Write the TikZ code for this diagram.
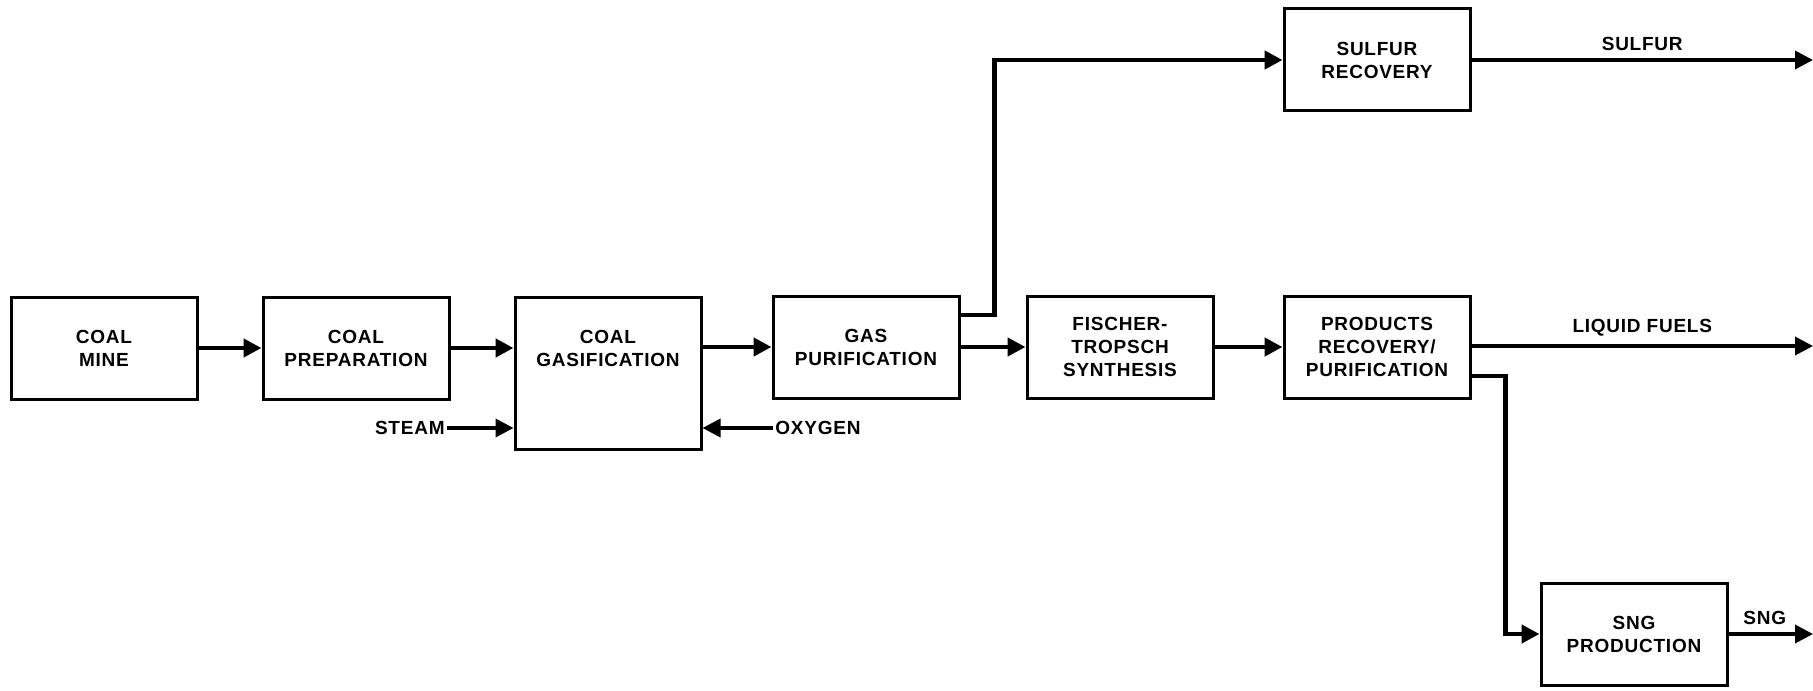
\documentclass[tikz,border=0pt]{standalone}
\usepackage{fontspec}
\setmainfont[LetterSpace=4]{Liberation Sans}
\usetikzlibrary{arrows.meta,positioning,calc}

\begin{document}
\begin{tikzpicture}[x=0.5pt, y=-0.5pt, >={Triangle[length=9pt,width=9pt]},
  font=\fontsize{9.5}{11.5}\selectfont\bfseries,
  blk/.style={draw, line width=1.5pt, minimum width=93pt, minimum height=51pt, align=center, inner sep=2pt},
  lbl/.style={inner sep=1pt, align=center},
  flow/.style={->, line width=2.2pt},
  outflow/.style={->, line width=1.8pt}]
  \useasboundingbox (0,0) rectangle (1813,690);
  \node[blk] (mine) at (104,348) {COAL\\MINE};
  \node[blk] (prep) at (356,348) {COAL\\PREPARATION};
  \node[blk, minimum height=76pt] (gasif) at (608,373) {};
  \node[lbl] (gasiftxt) at (gasif.center |- prep) {COAL\\GASIFICATION};
  \node[blk] (purif) at (866,347) {GAS\\PURIFICATION};
  \node[blk] (ft) at (1120,347) {FISCHER-\\TROPSCH\\SYNTHESIS};
  \node[blk] (prod) at (1377,347) {PRODUCTS\\RECOVERY/\\PURIFICATION};
  \node[blk] (sulfur) at (1377,60) {SULFUR\\RECOVERY};
  \node[blk] (sng) at (1634,634) {SNG\\PRODUCTION};
  \node[lbl, anchor=east] (steam) at (447,428) {STEAM};
  \node[lbl, anchor=west] (oxygen) at (773,428) {OXYGEN};
  \coordinate (sulfurout) at (1813,60);
  \coordinate (liquidout) at (1813,346);
  \coordinate (sngout) at (1813,634);
  \draw[flow] (mine.east) -- (prep.west);
  \draw[flow] (prep.east) -- (prep.east -| gasif.west);
  \draw[flow] (gasif.east |- purif) -- (purif.west);
  \draw[flow] (purif.east) -- (ft.west);
  \draw[flow] (ft.east) -- (prod.west);
  \draw[outflow] (steam.east) -- (steam.east -| gasif.west);
  \draw[outflow] (oxygen.west) -- (oxygen.west -| gasif.east);
  \draw[flow] ([yshift=16pt]purif.east) -- ++(17pt,0) |- (sulfur.west);
  \draw[flow] ([yshift=-14.5pt]prod.east) -- ++(17pt,0) |- (sng.west);
  \draw[outflow] (sulfur.east) -- node[lbl, above=3pt] (sulfurlbl) {SULFUR} (sulfurout);
  \draw[outflow] (prod.east |- liquidout) -- node[lbl, above=3pt] (liquidlbl) {LIQUID FUELS} (liquidout);
  \draw[outflow] (sng.east |- sngout) -- node[lbl, above=3pt, xshift=-3pt] (snglbl) {SNG} (sngout);
\end{tikzpicture}
\end{document}
